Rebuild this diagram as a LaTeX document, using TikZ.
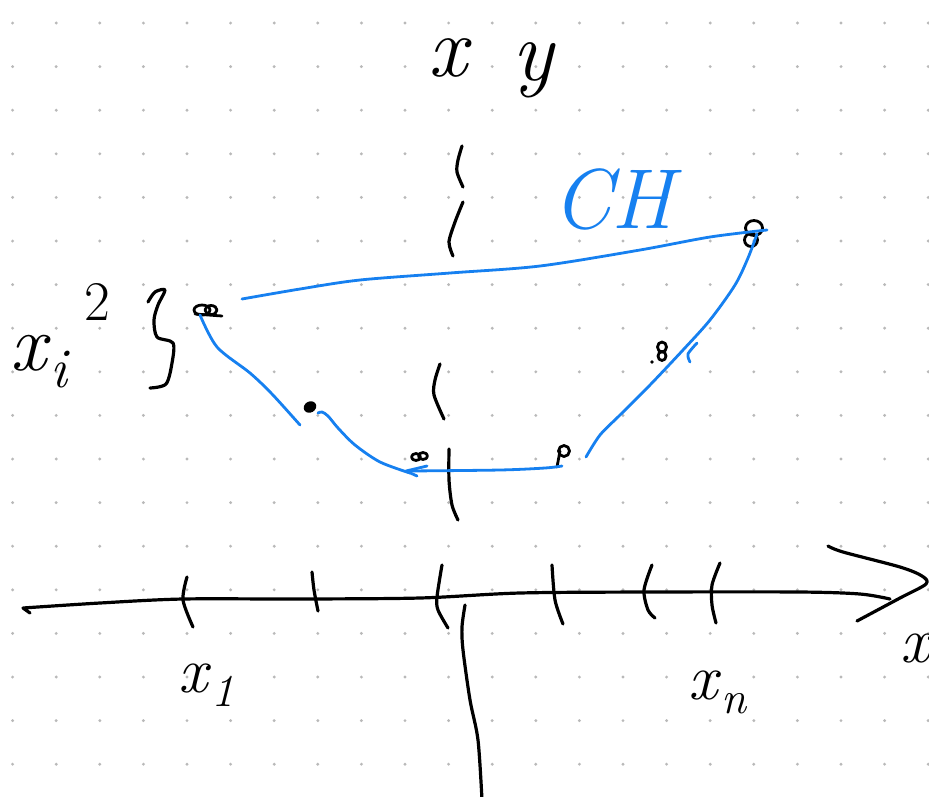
\documentclass[tikz,border=0pt]{standalone}
\usepackage{graphicx}
\definecolor{inkblue}{RGB}{22,128,240}
\definecolor{dotgray}{RGB}{185,185,185}
\newcommand\lsub[2]{\textit{#1}\raisebox{-0.22em}{\scalebox{0.7}{\textit{#2}}}}
\begin{document}
\begin{tikzpicture}[x=1pt,y=-1pt,
  ink/.style={line width=3.2pt,line cap=round,line join=round,black},
  dotink/.style={line width=2.8pt,line cap=round,line join=round,black},
  bink/.style={line width=2.8pt,line cap=round,line join=round,inkblue},
  lab/.style={inner sep=0pt,anchor=base west},
]
\useasboundingbox (0,0) rectangle (929,796);
\clip (0,0) rectangle (929,796);
\fill[white] (0,0) rectangle (929,796);
% dot grid
\foreach \i in {0,...,21}{
  \foreach \j in {0,...,17}{
    \fill[dotgray] ({12.6+43.6*\i},{23+43.6*\j}) circle (1.6pt);
  }
}
% vertical axis pieces
\draw[ink] plot[smooth] coordinates {(462,146)(458,160)(457,172)(463,187)};
\draw[ink] plot[smooth] coordinates {(463,202)(455,222)(449,242)(453,256)};
\draw[ink] plot[smooth] coordinates {(440,364)(435,380)(434,395)(444,419)};
\draw[ink] plot[smooth] coordinates {(449,449)(449,480)(452,505)(458,520)};
\draw[ink] plot[smooth] coordinates {(465,605)(462,627)(463,650)(470,700)(478,740)(482,800)};
% horizontal axis
\draw[ink] (30,613) -- (23,608) plot[smooth] coordinates {(23,608)(100,603)(183,599)(300,599)(420,598)(520,593)(650,592)(800,592)(860,594)(890,599)};
\draw[ink] plot[smooth,tension=0.5] coordinates {(828,546)(843,552)(900,567)(922,576)(926,584)(900,598)(857,621)};
% ticks
\draw[ink] plot[smooth] coordinates {(187,577)(183,600)(193,627)};
\draw[ink] plot[smooth] coordinates {(312,572)(314,590)(318,611)};
\draw[ink] plot[smooth] coordinates {(442,565)(437,597)(438,610)(448,628)};
\draw[ink] plot[smooth] coordinates {(552,565)(555,600)(563,624)};
\draw[ink] plot[smooth] coordinates {(652,565)(644,590)(648,610)(655,618)};
\draw[ink] plot[smooth] coordinates {(720,563)(712,585)(712,605)(716,623)};
% brace
\draw[ink] plot[smooth] coordinates {(148,302)(155,292)(165,290)(158,305)(154,320)(157,337)(173,343)(172,363)(166,384)(150,388)};
% points
\coordinate (p1) at (205,310);
\coordinate (p2) at (310,407);
\coordinate (p3) at (420,457);
\coordinate (p4) at (564,451);
\coordinate (p5) at (753,234);
\coordinate (p6) at (662,352);
\draw[dotink] ([xshift=-3pt]p1) ellipse [x radius=8pt,y radius=5pt];
\draw[dotink] ([xshift=6pt]p1) ellipse [x radius=6pt,y radius=4.5pt];
\draw[dotink] ([xshift=-10pt,yshift=-4pt]p1) -- ([xshift=17pt,yshift=-6pt]p1);
\fill[black,rotate around={30:(p2)}] (p2) ellipse [x radius=6.5pt,y radius=5.5pt];
\draw[dotink] ([xshift=-4pt]p3) ellipse [x radius=4.5pt,y radius=3.5pt];
\draw[dotink] ([xshift=3pt,yshift=1pt]p3) ellipse [x radius=4.5pt,y radius=3.5pt];
\draw[dotink] (p4) circle (5.5pt);
\draw[dotink] ([xshift=-4pt]p4) -- ([xshift=-7pt,yshift=-16pt]p4);
\draw[dotink] ([xshift=-2pt,yshift=-6pt]p5) ellipse [x radius=6.5pt,y radius=6.5pt];
\draw[dotink] ([xshift=1pt,yshift=6pt]p5) ellipse [x radius=8.5pt,y radius=7.5pt];
\draw[dotink] ([yshift=5pt]p6) ellipse [x radius=4.5pt,y radius=5pt];
\draw[dotink] ([yshift=-4pt]p6) ellipse [x radius=4pt,y radius=4.5pt];
\fill (652,362) circle (1.8pt);
% blue path
\draw[bink] plot[smooth] coordinates {(242,299)(300,289)(360,280)(450,273)(540,266)(640,250)(710,237)(767,230)};
\draw[bink] plot[smooth] coordinates {(757,234)(748,258)(735,285)(710,320)(683,350)(650,385)(620,415)(600,435)(586,457)};
\draw[bink] plot[smooth] coordinates {(697,343)(688,354)(690,362)};
\draw[bink] plot[smooth] coordinates {(562,466)(545,468)(500,470)(408,471)};
\draw[bink] (427,466) -- (406,471) -- (417,476);
\draw[bink] plot[smooth] coordinates {(410,473)(380,462)(355,445)(338,428)(328,416)(322,412)(318,413)};
\draw[bink] plot[smooth] coordinates {(300,425)(272,394)(250,373)(217,347)(200,315)};
% labels
\node[lab,font=\fontsize{86}{86}\selectfont\itshape] (labx) at (428,76) {x};
\node[lab,font=\fontsize{86}{86}\selectfont\itshape] (laby) at (512,80) {y};
\node[lab,font=\fontsize{80}{80}\selectfont] (labxi) at (10,370) {\lsub{x}{i}\hspace{14pt}\raisebox{0.62em}{\scalebox{0.7}{2}}};
\node[lab,font=\fontsize{85}{85}\selectfont\itshape,text=inkblue] (labch) at (552,228) {CH};
\node[lab,font=\fontsize{65}{65}\selectfont] (labx1) at (178,692) {\lsub{x}{1}};
\node[lab,font=\fontsize{65}{65}\selectfont] (labxn) at (688,699) {\lsub{x}{n}};
\node[lab,font=\fontsize{65}{65}\selectfont\itshape] (labxr) at (900,662) {x};
\end{tikzpicture}
\end{document}
